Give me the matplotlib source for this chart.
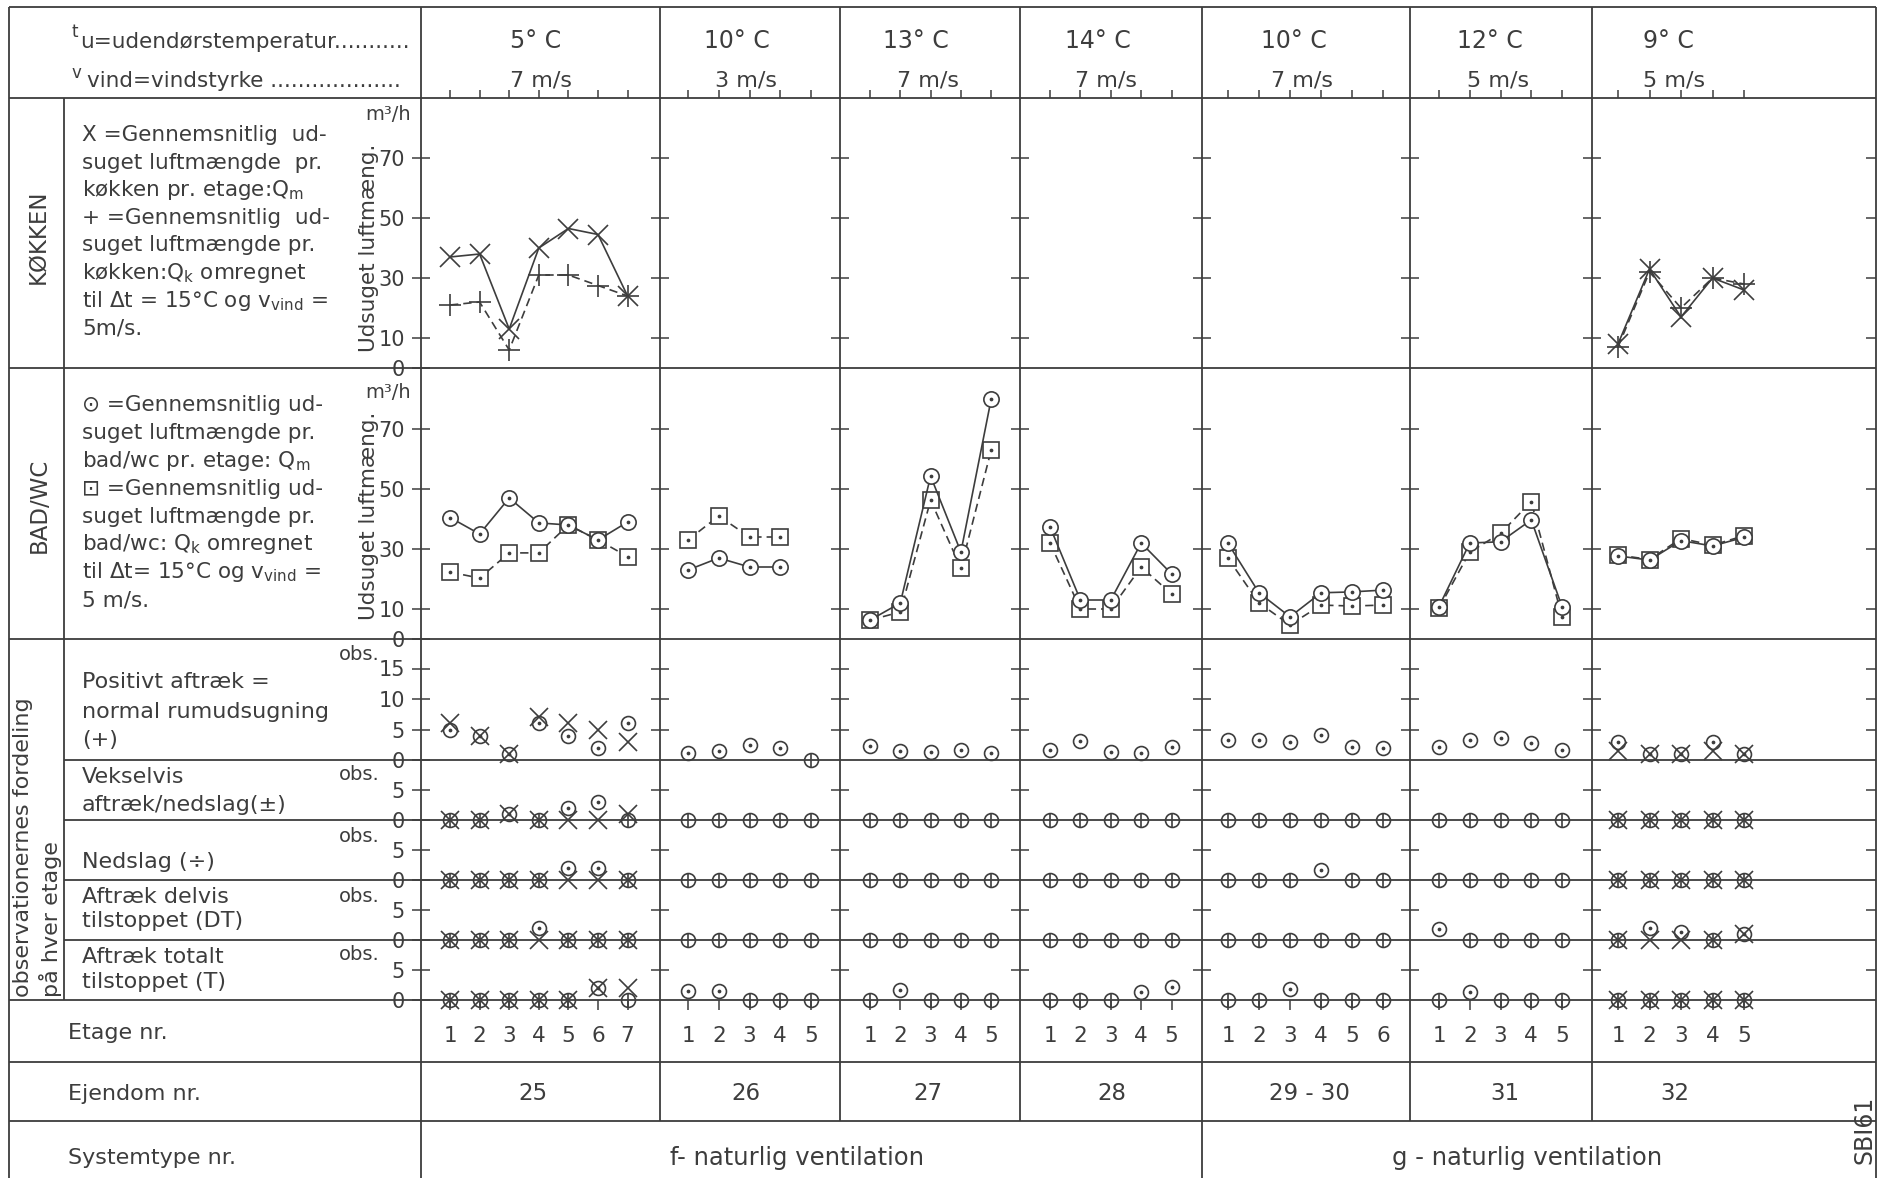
import matplotlib.pyplot as plt

W, H = 1892, 1178
DPI = 100
INK = '#3d3d3d'
plt.rcParams['font.family'] = ['DejaVu Sans']
plt.rcParams['text.color'] = INK

# ---------------------------------------------------------------- data
ejendom = ['25', '26', '27', '28', '29 - 30', '31', '32']
temperatur = ['5° C', '10° C', '13° C', '14° C', '10° C', '12° C', '9° C']
vindstyrke = ['7 m/s', '3 m/s', '7 m/s', '7 m/s', '7 m/s', '5 m/s', '5 m/s']
etager = [7, 5, 5, 5, 6, 5, 5]

# køkken, m3/h  (X = målt Qm, + = omregnet Qk)
kokken_qm = [[37, 38, 13, 40, 46.5, 44.5, 24], None, None, None, None, None,
             [8, 33, 17, 30, 26]]
kokken_qk = [[21, 22, 6, 31, 31, 27.5, 24], None, None, None, None, None,
             [7, 32, 20, 30, 28]]

# bad/wc, m3/h  (cirkel = målt Qm, firkant = omregnet Qk)
bad_qm = [[40.5, 35, 47, 38.7, 38, 33, 39],
          [23, 27, 24, 24],
          [6.3, 12, 54.3, 29, 80],
          [37.4, 13, 13, 32, 21.7],
          [31.9, 15.4, 7.4, 15.4, 15.7, 16.3],
          [10.8, 32, 32.4, 39.7, 10.8],
          [27.7, 26.3, 32.8, 31, 33.9]]
bad_qk = [[22.3, 20.3, 28.7, 28.7, 38, 33, 27.5],
          [33, 41, 34, 34],
          [6.3, 9, 46.3, 23.6, 63],
          [32, 10, 10, 24, 15],
          [26.9, 12, 4.7, 11.3, 11, 11.3],
          [10.3, 29, 35.2, 45.8, 7.4],
          [28, 26.5, 33.5, 31.3, 34.4]]

# antal observationer pr. etage, bad/wc (cirkel)
obs_pos_bad = [[5, 4, 1, 6, 4, 2, 6], [1.2, 1.5, 2.4, 2, 0], [2.3, 1.5, 1.3, 1.7, 1.2],
               [1.6, 3.1, 1.3, 1.1, 2.2], [3.2, 3.2, 3, 4.1, 2.2, 2],
               [2.1, 3.3, 3.6, 2.8, 1.6], [3, 1, 1, 3, 1]]
obs_veks_bad = [[0, 0, 1, 0, 2, 3, 0], [0] * 5, [0] * 5, [0] * 5, [0] * 6, [0] * 5, [0] * 5]
obs_neds_bad = [[0, 0, 0, 0, 2, 2, 0], [0] * 5, [0] * 5, [0] * 5,
                [0, 0, 0, 1.7, 0, 0], [0] * 5, [0] * 5]
obs_dt_bad = [[0, 0, 0, 2, 0, 0, 0], [0] * 5, [0] * 5, [0] * 5, [0] * 6,
              [1.9, 0, 0, 0, 0], [0, 2, 1.4, 0, 1]]
obs_t_bad = [[0, 0, 0, 0, 0, 2, 0], [1.5, 1.5, 0, 0, 0], [0, 1.7, 0, 0, 0],
             [0, 0, 0, 1.4, 2.2], [0, 0, 1.8, 0, 0, 0], [0, 1.4, 0, 0, 0], [0] * 5]

# antal observationer pr. etage, køkken (X)
obs_pos_kok = [[6, 4, 1, 7, 6, 5, 3], None, None, None, None, None, [1.5, 1, 1, 1.5, 1]]
obs_veks_kok = [[0, 0, 1, 0, 0, 0, 1], None, None, None, None, None, [0] * 5]
obs_neds_kok = [[0] * 7, None, None, None, None, None, [0] * 5]
obs_dt_kok = [[0] * 7, None, None, None, None, None, [0, 0, 0, 0, 1]]
obs_t_kok = [[0, 0, 0, 0, 0, 2, 2], None, None, None, None, None, [0] * 5]

# ---------------------------------------------------------------- layout (pixels)
col_edges = [421, 660, 840, 1020, 1202, 1410, 1592, 1876]
floor1_px = [450, 688, 870, 1050, 1228, 1439, 1618]
floor_step = [29.6, 30.75, 30.3, 30.4, 31, 30.75, 31.5]
temp_px = [536, 737, 916, 1098, 1294, 1490, 1668]
vind_px = [541, 746, 928, 1106, 1302, 1498, 1674]
ejendom_px = [533, 746, 928, 1112, 1309, 1505, 1675]

# panel: top, bottom, px per unit, ticks
panels = {
    'kok': (98, 368, 3.0, [10, 30, 50, 70]),
    'bad': (368, 639, 3.0, [10, 30, 50, 70]),
    'pos': (639, 760, 6.1, [5, 10, 15]),
    'veks': (760, 820, 6.0, [5]),
    'neds': (820, 880, 6.0, [5]),
    'dt': (880, 940, 6.0, [5]),
    't': (940, 1000, 6.0, [5]),
}

fig = plt.figure(figsize=(W / DPI, H / DPI), dpi=DPI)
fig.patch.set_facecolor('white')

# table grid in pixel coordinates
grid = fig.add_axes([0, 0, 1, 1], zorder=0)
grid.set_xlim(0, W)
grid.set_ylim(H, 0)
grid.axis('off')
lw = 1.3


def hline(y, x0, x1):
    grid.plot([x0, x1], [y, y], color=INK, lw=lw, solid_capstyle='butt')


def vline(x, y0, y1):
    grid.plot([x, x], [y0, y1], color=INK, lw=lw, solid_capstyle='butt')


L, R, TOP = 9, col_edges[-1], 7
hline(TOP, L, R)
for y in (98, 368, 639, 1000, 1062, 1121):
    hline(y, L, R)
for y in (760, 820, 880, 940):
    hline(y, 64, R)
vline(L, TOP, H)
vline(R, TOP, H)
vline(64, 98, 1000)
vline(col_edges[0], TOP, H)
vline(col_edges[4], TOP, H)
for x in col_edges[1:4] + col_edges[5:7]:
    vline(x, TOP, 1121)


def make_ax(g, key):
    top, bot, ppu, ticks = panels[key]
    x0, x1 = col_edges[g], col_edges[g + 1]
    ax = fig.add_axes([x0 / W, 1 - bot / H, (x1 - x0) / W, (bot - top) / H], zorder=2)
    ax.set_facecolor('none')
    for s in ax.spines.values():
        s.set_visible(False)
    f0 = 1 - (floor1_px[g] - x0) / floor_step[g]
    ax.set_xlim(f0, f0 + (x1 - x0) / floor_step[g])
    ax.set_ylim(0, (bot - top) / ppu)
    ax.set_yticks(ticks)
    ax.tick_params(axis='y', direction='inout', length=13, width=1.1, color=INK,
                   labelleft=(g == 0), labelsize=15, labelcolor=INK, pad=5)
    ax.tick_params(axis='x', bottom=False, labelbottom=False)
    if g == len(col_edges) - 2:
        rax = ax.secondary_yaxis('right')
        rax.spines['right'].set_visible(False)
        rax.set_yticks(ticks)
        rax.tick_params(direction='in', length=7, width=1.1, color=INK, labelright=False)
    return ax


floors = [list(range(1, n + 1)) for n in etager]

mk = dict(color=INK, lw=1.2, mec=INK, mew=1.2, clip_on=False)
for g in range(len(ejendom)):
    fl = floors[g]

    # køkken
    ax = make_ax(g, 'kok')
    ax.xaxis.set_ticks_position('top')
    ax.set_xticks(fl)
    ax.tick_params(axis='x', top=True, direction='out', length=6, width=1.1,
                   color=INK, labeltop=False)
    if kokken_qm[g] is not None:
        ax.plot(fl, kokken_qm[g], marker='x', ms=14, ls='-', **mk)
        ax.plot(fl, kokken_qk[g], marker='+', ms=16, ls=(0, (5, 3)), **mk)
    if g == 0:
        ax.set_yticks([0, 10, 30, 50, 70])

    # bad/wc
    ax = make_ax(g, 'bad')
    n = len(bad_qm[g])
    ax.plot(fl[:n], bad_qk[g], marker='s', ms=12, mfc='white', ls=(0, (5, 3)), **mk)
    ax.plot(fl[:n], bad_qk[g], marker='.', ms=3, ls='none', **mk)
    ax.plot(fl[:n], bad_qm[g], marker='o', ms=11, mfc='white', ls='-', **mk)
    ax.plot(fl[:n], bad_qm[g], marker='.', ms=3, ls='none', **mk)
    if g == 0:
        ax.set_yticks([0, 10, 30, 50, 70])

    # observationer
    for key, b_vals, k_vals in (('pos', obs_pos_bad, obs_pos_kok),
                                ('veks', obs_veks_bad, obs_veks_kok),
                                ('neds', obs_neds_bad, obs_neds_kok),
                                ('dt', obs_dt_bad, obs_dt_kok),
                                ('t', obs_t_bad, obs_t_kok)):
        ax = make_ax(g, key)
        if g == 0:
            ax.set_yticks([0] + panels[key][3])
        vals = b_vals[g]
        zero = [f for f, v in zip(fl, vals) if v == 0]
        up = [(f, v) for f, v in zip(fl, vals) if v != 0]
        ax.plot(fl, vals, marker='o', ms=10, mfc='none', ls='none', **mk)
        if up:
            ax.plot([u[0] for u in up], [u[1] for u in up], marker='.', ms=3, ls='none', **mk)
        if zero:
            ax.plot(zero, [0] * len(zero), marker='|', ms=10, ls='none', **mk)
        if k_vals[g] is not None:
            ax.plot(fl, k_vals[g], marker='x', ms=13, ls='none', **mk)
        if key == 't':
            ax.set_xticks(fl)
            ax.set_xticklabels([str(f) for f in fl])
            ax.tick_params(axis='x', bottom=True, labelbottom=True, direction='out',
                           length=7, width=1.1, color=INK, labelsize=15.5,
                           labelcolor=INK, pad=12)

    # tekst i hoved og bund
    grid.text(temp_px[g], 41, temperatur[g], fontsize=17, ha='center', va='center')
    grid.text(vind_px[g], 80, vindstyrke[g], fontsize=16, ha='center', va='center')
    grid.text(ejendom_px[g], 1094, ejendom[g], fontsize=16.5, ha='center', va='center')

# venstre kolonne
fs = 15.5
grid.text(71, 32, 't', fontsize=12, ha='left', va='center')
grid.text(80, 42, 'u=udendørstemperatur...........', fontsize=15.5, ha='left', va='center')
grid.text(71, 73, 'v', fontsize=12, ha='left', va='center')
grid.text(87, 81, 'vind=vindstyrke ...................', fontsize=15.5, ha='left', va='center')

kok_lines = ['X =Gennemsnitlig  ud-', 'suget luftmængde  pr.', 'køkken pr. etage:Q$_\\mathregular{m}$',
             '+ =Gennemsnitlig  ud-', 'suget luftmængde pr.', 'køkken:Q$_\\mathregular{k}$ omregnet',
             'til Δt = 15°C og v$_\\mathregular{vind}$ =', '5m/s.']
for i, s in enumerate(kok_lines):
    grid.text(82, 135 + i * 27.6, s, fontsize=fs, ha='left', va='center')

bad_lines = ['⊙ =Gennemsnitlig ud-', 'suget luftmængde pr.', 'bad/wc pr. etage: Q$_\\mathregular{m}$',
             '⊡ =Gennemsnitlig ud-', 'suget luftmængde pr.', 'bad/wc: Q$_\\mathregular{k}$ omregnet',
             'til Δt= 15°C og v$_\\mathregular{vind}$ =', '5 m/s.']
for i, s in enumerate(bad_lines):
    grid.text(82, 405 + i * 27.9, s, fontsize=fs, ha='left', va='center')

grid.text(388, 115, 'm³/h', fontsize=14, ha='center', va='center')
grid.text(388, 393, 'm³/h', fontsize=14, ha='center', va='center')
grid.text(369, 248, 'Udsuget luftmæng.', fontsize=15.5, rotation=90, ha='center', va='center')
grid.text(369, 516, 'Udsuget luftmæng.', fontsize=15.5, rotation=90, ha='center', va='center')

obs_text = [(682, 'Positivt aftræk ='), (712, 'normal rumudsugning'), (740, '(+)'),
            (777, 'Vekselvis'), (805, 'aftræk/nedslag(±)'),
            (862, 'Nedslag (÷)'),
            (897, 'Aftræk delvis'), (921, 'tilstoppet (DT)'),
            (957, 'Aftræk totalt'), (982, 'tilstoppet (T)')]
for y, s in obs_text:
    grid.text(82, y, s, fontsize=16, ha='left', va='center')
for y in (655, 775, 837, 897, 955):
    grid.text(380, y, 'obs.', fontsize=14, ha='right', va='center')

grid.text(38, 237, 'KØKKEN', fontsize=16.5, rotation=90, ha='center', va='center')
grid.text(39, 505, 'BAD/WC', fontsize=16.5, rotation=90, ha='center', va='center')
grid.text(23, 997, 'observationernes fordeling', fontsize=16, rotation=90,
          rotation_mode='anchor', ha='left', va='center')
grid.text(50, 997, 'på hver etage', fontsize=16, rotation=90,
          rotation_mode='anchor', ha='left', va='center')

grid.text(68, 1033, 'Etage nr.', fontsize=16, ha='left', va='center')
grid.text(68, 1094, 'Ejendom nr.', fontsize=16, ha='left', va='center')
grid.text(68, 1158, 'Systemtype nr.', fontsize=16, ha='left', va='center')
grid.text(797, 1158, 'f- naturlig ventilation', fontsize=17.5, ha='center', va='center')
grid.text(1527, 1158, 'g - naturlig ventilation', fontsize=17.5, ha='center', va='center')
grid.text(1864, 1130, 'SBI61', fontsize=17, rotation=90, ha='center', va='center')

fig.savefig('out.png', dpi=DPI, facecolor='white')
